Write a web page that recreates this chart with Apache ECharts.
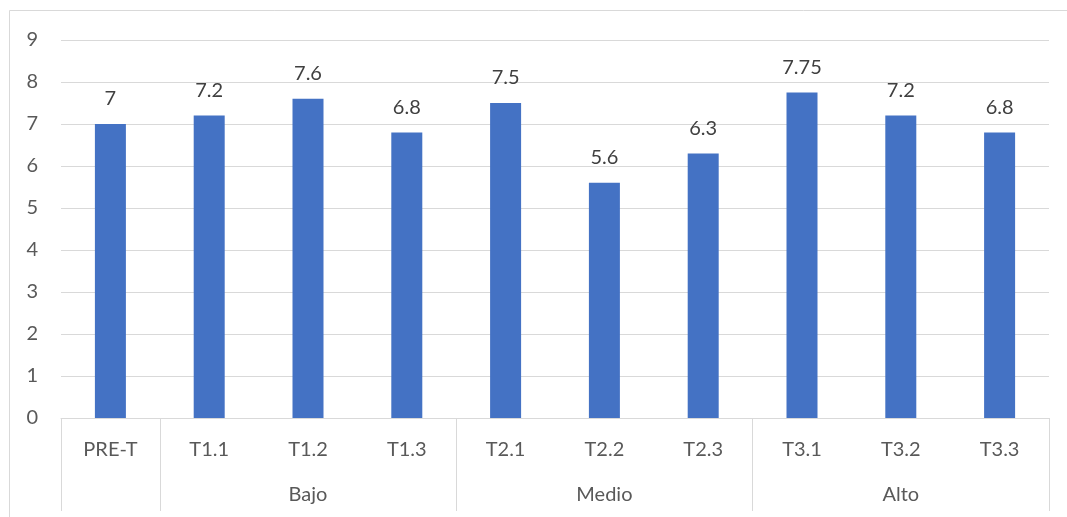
<!DOCTYPE html>
<html>
<head>
<meta charset="utf-8">
<style>
  html, body { margin: 0; padding: 0; background: #ffffff; }
  #chart { width: 1067px; height: 517px; }
</style>
<script src="https://cdn.jsdelivr.net/npm/echarts@6/dist/echarts.min.js"></script>
</head>
<body>
<div id="chart"></div>
<script>
// Treatment categories and their scores
const categories = ['PRE-T', 'T1.1', 'T1.2', 'T1.3', 'T2.1', 'T2.2', 'T2.3', 'T3.1', 'T3.2', 'T3.3'];
const values = [7, 7.2, 7.6, 6.8, 7.5, 5.6, 6.3, 7.75, 7.2, 6.8];
// Second-level grouping of the categories
const groupNames = ['', 'Bajo', 'Medio', 'Alto'];
const groupSizes = [1, 3, 3, 3];
const yTicks = [0, 1, 2, 3, 4, 5, 6, 7, 8, 9];

// Group start indices (for the separator ticks) and centre indices (for the group labels)
const groupStarts = [];
const groupCentres = {};
let acc = 0;
groupSizes.forEach((n, g) => {
  groupStarts.push(acc);
  groupCentres[acc + Math.floor(n / 2)] = groupNames[g];
  acc += n;
});

const FONT = 'Lato';
const GRID = '#d9d9d9';

const chart = echarts.init(document.getElementById('chart'), null, { renderer: 'canvas' });

chart.setOption({
  animation: false,
  backgroundColor: '#ffffff',
  graphic: [{
    type: 'rect',
    shape: { x: 9.5, y: 10.5, width: 1200, height: 700 },
    style: { fill: 'none', stroke: GRID, lineWidth: 1 },
    silent: true
  }],
  grid: { left: 61, right: 18, top: 40, bottom: 99 },
  xAxis: [{
    type: 'category',
    data: categories,
    position: 'bottom',
    axisLine: { show: true, lineStyle: { color: GRID, width: 1 } },
    axisTick: {
      show: true,
      length: 93,
      alignWithLabel: false,
      interval: (index) => groupStarts.indexOf(index) !== -1,
      lineStyle: { color: GRID, width: 1 }
    },
    axisLabel: {
      interval: 0,
      margin: 22,
      color: '#595959',
      fontFamily: FONT,
      fontSize: 20
    },
    splitLine: { show: false }
  }, {
    type: 'category',
    data: categories,
    position: 'bottom',
    offset: 47,
    axisLine: { show: false },
    axisTick: { show: false },
    axisLabel: {
      interval: 0,
      margin: 20,
      color: '#595959',
      fontFamily: FONT,
      fontSize: 20,
      formatter: (val, idx) => groupCentres[idx] || ''
    },
    splitLine: { show: false }
  }],
  yAxis: {
    type: 'value',
    min: yTicks[0],
    max: yTicks[yTicks.length - 1],
    interval: 1,
    axisLine: { show: false },
    axisTick: { show: false },
    axisLabel: {
      margin: 23,
      color: '#595959',
      fontFamily: FONT,
      fontSize: 20
    },
    splitLine: { show: true, lineStyle: { color: GRID, width: 1 } }
  },
  series: [{
    type: 'bar',
    xAxisIndex: 0,
    data: values,
    barWidth: 31,
    itemStyle: { color: '#4472C4' },
    label: {
      show: true,
      position: 'top',
      distance: 15,
      color: '#404040',
      fontFamily: FONT,
      fontSize: 20
    }
  }]
});
</script>
</body>
</html>
